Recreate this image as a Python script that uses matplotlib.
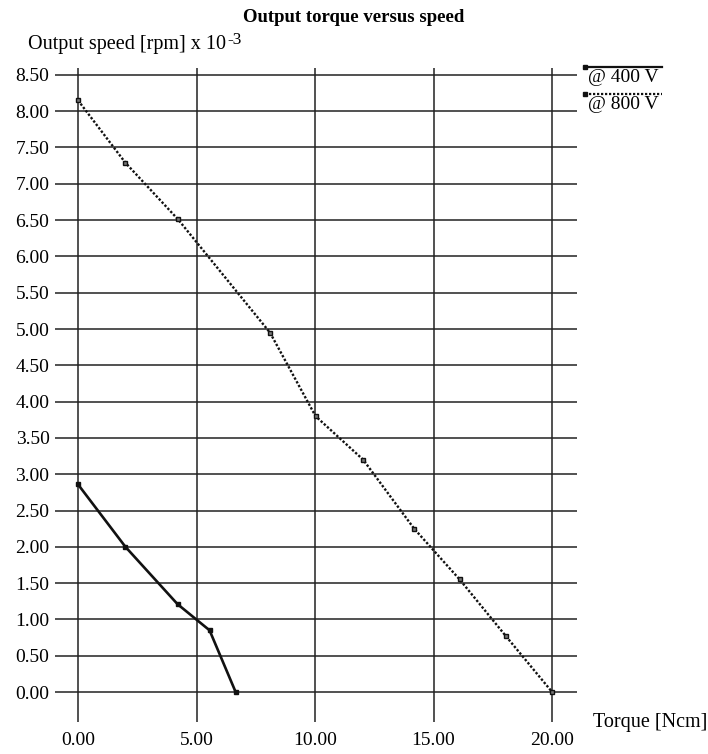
import matplotlib.pyplot as plt
from matplotlib.lines import Line2D

plt.rcParams['font.family'] = ['Liberation Serif', 'DejaVu Serif']

# torque [Ncm] / speed [rpm x 10^-3]
torque_400 = [0.0, 2.0, 4.2, 5.55, 6.65]
speed_400 = [2.86, 2.0, 1.21, 0.85, 0.0]

torque_800 = [0.0, 2.0, 4.22, 8.1, 10.02, 12.03, 14.18, 16.1, 18.05, 20.0]
speed_800 = [8.15, 7.29, 6.51, 4.95, 3.80, 3.20, 2.25, 1.55, 0.77, 0.0]

x_ticks = [0, 5, 10, 15, 20]
y_ticks = [i * 0.5 for i in range(18)]
series_labels = ['@ 400 V', '@ 800 V']

fig = plt.figure(figsize=(7.08, 7.54), dpi=100)
ax = fig.add_axes([55 / 708, 1 - 722 / 754, (577 - 55) / 708, (722 - 68) / 754])

for x in x_ticks:
    ax.axvline(x, color='#222222', lw=1.1, zorder=1)
for y in y_ticks:
    ax.axhline(y, color='#222222', lw=1.1, zorder=1)

ax.plot(torque_400, speed_400, color='#111111', lw=1.9, marker='s',
        markersize=3.5, zorder=3)
ax.plot(torque_800, speed_800, color='#111111', lw=1.7, ls=(0, (1, 0.8)),
        marker='s', markersize=3.5, mfc='#777777', mec='#111111', mew=1.0,
        zorder=3)

ax.set_xlim(-0.97, 21.05)
ax.set_ylim(-0.413, 8.595)
ax.set_xticks(x_ticks)
ax.set_xticklabels([f'{v:.2f}' for v in x_ticks])
ax.set_yticks(y_ticks)
ax.set_yticklabels([f'{v:.2f}' for v in y_ticks])
ax.tick_params(axis='both', length=0, labelsize=14)
ax.tick_params(axis='x', pad=7)
ax.tick_params(axis='y', pad=4)
for s in ax.spines.values():
    s.set_visible(False)

fig.text(0.5, 1 - 17 / 754, 'Output torque versus speed', ha='center',
         va='center', fontsize=13.5, fontweight='bold')
yl = fig.text(28 / 708, 1 - 44 / 754, 'Output speed [rpm] x 10', ha='left',
              va='center', fontsize=14.5)
ax.annotate('-3', xy=(1, 1), xycoords=yl, xytext=(1, -4),
            textcoords='offset points', ha='left', va='center', fontsize=12.5)
fig.text(593 / 708, 1 - 722 / 754, 'Torque [Ncm]', ha='left', va='center',
         fontsize=14.5)

# legend drawn outside the axes
styles = ['-', (0, (1, 0.8))]
line_y = [67, 94]
for label, st, ly in zip(series_labels, styles, line_y):
    yf = 1 - ly / 754
    fig.add_artist(Line2D([585 / 708, 662 / 708], [yf, yf], color='#111111',
                          lw=1.6, ls=st, transform=fig.transFigure))
    fig.add_artist(Line2D([585 / 708], [yf], color='#111111', marker='s',
                          markersize=3.5, transform=fig.transFigure))
    fig.text(588 / 708, yf - 2 / 754, label, ha='left', va='top',
             fontsize=14)

fig.savefig('out.png', dpi=100)
